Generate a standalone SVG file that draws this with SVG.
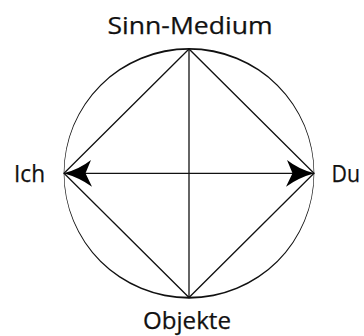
<svg xmlns="http://www.w3.org/2000/svg" width="364" height="336" viewBox="0 0 364 336">
<style>
.lbl{font-family:"Open Sans","Noto Sans","Liberation Sans",sans-serif;font-size:23.5px;fill:#111;stroke:#111;stroke-width:0.25}
.ln{stroke:#111;stroke-width:1.3;fill:none}
.head{fill:#000}
</style>
<rect width="364" height="336" fill="#fff"/>
<g id="ring">
<path fill="#111" fill-rule="evenodd" d="M63.7,173.3 A125.3,125.3 0 1 0 314.3,173.3 A125.3,125.3 0 1 0 63.7,173.3 Z M64.3,173.3 A124.7,123.5 0 1 0 313.7,173.3 A124.7,123.5 0 1 0 64.3,173.3 Z"/>
</g>
<g id="connectors">
<path class="ln" d="M189,49 L64,173.3 L189,297.5 L314,173.3 Z"/>
<line class="ln" x1="189" y1="49" x2="189" y2="297.5"/>
<line class="ln" x1="84" y1="173.3" x2="294" y2="173.3"/>
<path class="head" d="M63.5,173.3 Q79,169.5 91,160 L85.5,173.3 L92,186.7 Q79,177.5 63.5,173.3 Z"/>
<path class="head" d="M314.5,173.3 Q299,169.5 287,160 L292.5,173.3 L286,186.7 Q299,177.5 314.5,173.3 Z"/>
</g>
<g id="sinn-medium"><text class="lbl" x="107.5" y="34.2" textLength="165" lengthAdjust="spacingAndGlyphs">Sinn-Medium</text></g>
<g id="objekte"><text class="lbl" x="143" y="329.3" textLength="88" lengthAdjust="spacingAndGlyphs">Objekte</text></g>
<g id="ich"><text class="lbl" x="14" y="181.7" textLength="31" lengthAdjust="spacingAndGlyphs">Ich</text></g>
<g id="du"><text class="lbl" x="331.5" y="181.7" textLength="28.5" lengthAdjust="spacingAndGlyphs">Du</text></g>
</svg>
